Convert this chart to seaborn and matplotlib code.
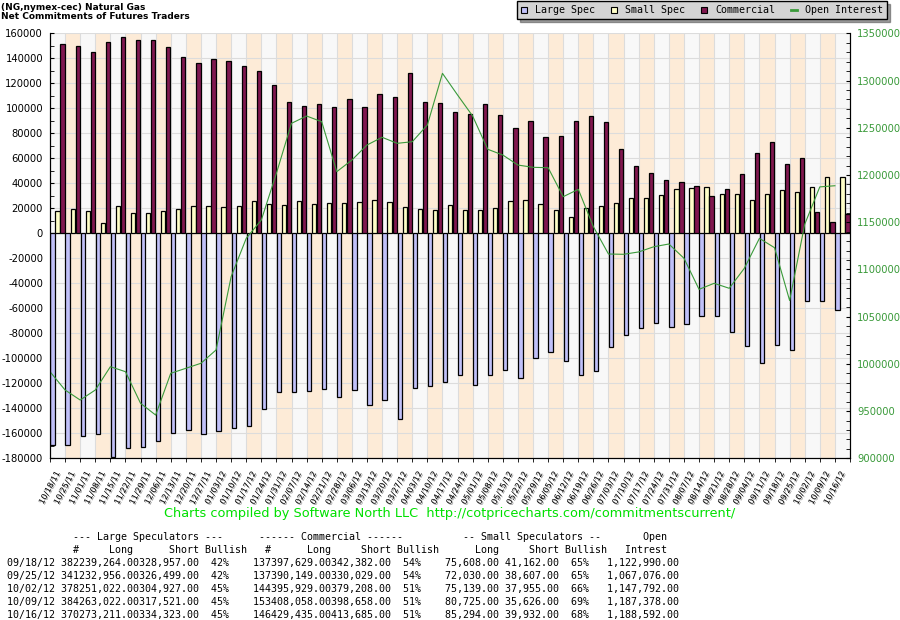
import matplotlib
matplotlib.use('Agg')  # headless
import matplotlib.pyplot as plt
import matplotlib.patheffects as pe
from matplotlib.lines import Line2D
from matplotlib.ticker import MultipleLocator, StrMethodFormatter, FixedLocator
import numpy as np
import pandas as pd
import seaborn as sns

# weekly report dates
dates = ['10/18/11', '10/25/11', '11/01/11', '11/08/11', '11/15/11', '11/22/11', '11/29/11',
         '12/06/11', '12/13/11', '12/20/11', '12/27/11', '01/03/12', '01/10/12', '01/17/12',
         '01/24/12', '01/31/12', '02/07/12', '02/14/12', '02/21/12', '02/28/12', '03/06/12',
         '03/13/12', '03/20/12', '03/27/12', '04/03/12', '04/10/12', '04/17/12', '04/24/12',
         '05/01/12', '05/08/12', '05/15/12', '05/22/12', '05/29/12', '06/05/12', '06/12/12',
         '06/19/12', '06/26/12', '07/03/12', '07/10/12', '07/17/12', '07/24/12', '07/31/12',
         '08/07/12', '08/14/12', '08/21/12', '08/28/12', '09/04/12', '09/11/12', '09/18/12',
         '09/25/12', '10/02/12', '10/09/12', '10/16/12']

# net positions (contracts)
large_spec = [-169300, -169600, -162400, -160800, -178700, -171500, -170700, -166400, -160000,
              -157600, -160800, -158400, -155500, -154300, -140500, -127200, -127200, -126400,
              -124800, -131200, -125600, -137600, -133600, -148800, -124000, -122400, -119200,
              -113600, -121600, -113600, -109600, -116000, -100000, -95200, -102400, -113600,
              -110400, -91200, -81600, -76000, -72000, -75200, -72800, -66400, -66400, -79200,
              -90400, -104000, -89693, -93543, -53905, -54499, -61112]
small_spec = [17900, 19200, 17900, 8000, 21600, 16000, 16000, 17600, 19200, 21600, 21600, 20800,
              21600, 25600, 23500, 22700, 25600, 23500, 24000, 24000, 25100, 26400, 24800, 20800,
              19200, 18400, 22400, 18400, 18400, 20000, 25600, 26400, 23200, 18400, 12800, 20000,
              21600, 24000, 28000, 28000, 30400, 35200, 36000, 36800, 31200, 31200, 26400, 31200,
              34446, 33423, 37184, 45099, 45362]
commercial = [151200, 150150, 144800, 152800, 156800, 154400, 154400, 148800, 140800, 136000,
              139200, 137600, 133600, 129600, 118700, 105100, 101600, 103500, 100800, 107200,
              100800, 111200, 108800, 128000, 104800, 104000, 96800, 95200, 103200, 94400, 84000,
              89600, 76800, 77600, 89600, 93600, 88800, 67200, 53600, 48000, 42400, 40800, 37600,
              29600, 35200, 47200, 64000, 72800, 55247, 60120, 16721, 9400, 15750]
open_interest = [991700, 972300, 961700, 972300, 997000, 991700, 958200, 945800, 990000, 995300,
                 1000600, 1014700, 1092300, 1132900, 1152300, 1201800, 1254700, 1262400, 1256400,
                 1203500, 1215800, 1231700, 1239900, 1233500, 1235200, 1252900, 1307600, 1284700,
                 1262400, 1227200, 1221100, 1210500, 1208100, 1207700, 1177000, 1184800, 1145200,
                 1116300, 1116000, 1118500, 1124000, 1126900, 1111800, 1078900, 1085300, 1080000,
                 1101200, 1132900, 1122990, 1067076, 1147792, 1187378, 1188592]

# table of the last five reports
tbl_dates = ['09/18/12', '09/25/12', '10/02/12', '10/09/12', '10/16/12']
ls_num = [382, 341, 378, 384, 370]
ls_long = [239264, 232956, 251022, 263022, 273211]
ls_short = [328957, 326499, 304927, 317521, 334323]
ls_bull = [42, 42, 45, 45, 45]
cm_num = [137, 137, 144, 153, 146]
cm_long = [397629, 390149, 395929, 408058, 429435]
cm_short = [342382, 330029, 379208, 398658, 413685]
cm_bull = [54, 54, 51, 51, 51]
ss_long = [75608, 72030, 75139, 80725, 85294]
ss_short = [41162, 38607, 37955, 35626, 39932]
ss_bull = [65, 65, 66, 69, 68]
oi_tbl = [1122990, 1067076, 1147792, 1187378, 1188592]

series_names = ['Large Spec', 'Small Spec', 'Commercial']
bar_colors = ['#c0c0f8', '#ffffc8', '#80184f']
OI_GREEN = '#3a9a3a'
MONO = 'DejaVu Sans Mono'

plt.rcParams['axes.unicode_minus'] = False

n = len(dates)
df = pd.DataFrame({
    'date': dates * 3,
    'series': [s for s in series_names for _ in range(n)],
    'value': large_spec + small_spec + commercial,
})

fig = plt.figure(figsize=(9, 6.2), dpi=100)
ax = fig.add_axes([50 / 900, 1 - 458.3 / 620, 800 / 900, 425 / 620])

# alternating week bands
for i in range(n):
    ax.axvspan(i - 0.5, i + 0.5, color=['#f8f8f8', '#fdebd7'][i % 2], lw=0, zorder=0)

sns.barplot(data=df, x='date', y='value', hue='series', order=dates, hue_order=series_names,
            palette=bar_colors, saturation=1, width=1.0, gap=0.15, errorbar=None,
            edgecolor='black', linewidth=0.9, legend=False, ax=ax)

ax.set_xlim(-0.5, n - 0.5)
ax.set_ylim(-180000, 160000)
ax.set_xlabel('')
ax.set_ylabel('')
ax.set_axisbelow(True)
ax.yaxis.set_major_locator(MultipleLocator(20000))
ax.yaxis.set_minor_locator(MultipleLocator(10000))
ax.yaxis.set_major_formatter(StrMethodFormatter('{x:.0f}'))
ax.yaxis.grid(True, which='major', color='#dcdcdc', lw=0.8)
ax.set_xticks(np.arange(n))
ax.set_xticklabels(dates, rotation=62, ha='right', va='center', rotation_mode='anchor',
                   fontsize=5.8)
ax.xaxis.set_minor_locator(FixedLocator(np.arange(n + 1) - 0.5))
ax.xaxis.grid(True, which='minor', color='#dcdcdc', lw=0.8)
ax.tick_params(axis='x', which='major', length=0, pad=10)
ax.tick_params(axis='x', which='minor', length=3, direction='out')
ax.tick_params(axis='y', which='both', direction='in', length=3, labelsize=7.2, pad=5)
for lab in ax.get_xticklabels():
    lab.set_path_effects([pe.withSimplePatchShadow(offset=(0.8, -0.8),
                                                   shadow_rgbFace='#9a9a9a', alpha=1)])
ax.spines['top'].set_visible(False)

# open interest on the right axis
ax2 = ax.twinx()
sns.lineplot(x=np.arange(n) - 0.5, y=open_interest, ax=ax2, color=OI_GREEN, lw=0.8)
ax2.set_ylim(900000, 1350000)
ax2.yaxis.set_major_locator(MultipleLocator(50000))
ax2.yaxis.set_minor_locator(MultipleLocator(10000))
ax2.yaxis.set_major_formatter(StrMethodFormatter('{x:.0f}'))
ax2.tick_params(axis='y', which='both', direction='in', length=3, labelsize=7.2,
                labelcolor=OI_GREEN, pad=5)
ax2.spines['top'].set_visible(False)

# titles
fig.text(1 / 900, 1 - 7.5 / 620, '(NG,nymex-cec) Natural Gas', fontsize=6.5,
         fontweight='bold', va='center', ha='left')
fig.text(1 / 900, 1 - 16.5 / 620, 'Net Commitments of Futures Traders', fontsize=6.5,
         fontweight='bold', va='center', ha='left')

# legend
handles = [Line2D([], [], marker='s', ls='none', markersize=4.5, markerfacecolor=c,
                  markeredgecolor='black', markeredgewidth=0.8) for c in bar_colors]
handles.append(Line2D([], [], color=OI_GREEN, lw=2))
fig.legend(handles, series_names + ['Open Interest'], ncol=4, loc='upper right',
           bbox_to_anchor=(888 / 900, 1.0), frameon=True, fancybox=False, shadow=True,
           facecolor='#d4d4d4', edgecolor='black', framealpha=1,
           prop={'family': MONO, 'size': 7.2}, handlelength=0.6, handletextpad=0.8,
           columnspacing=1.6, borderpad=0.4, borderaxespad=0.1)

# credit line
fig.text(450 / 900, 1 - 513 / 620,
         'Charts compiled by Software North LLC  http://cotpricecharts.com/commitmentscurrent/',
         color='#00e000', fontsize=9.3, ha='center', va='center')


def at_cols(items):
    s = ''
    for col, txt in items:
        s = s.ljust(col) + txt
    return s


rows = [
    at_cols([(11, '--- Large Speculators ---'), (42, '------ Commercial ------'),
             (76, '-- Small Speculators --'), (106, 'Open')]),
    at_cols([(11, '#'), (17, 'Long'), (27, 'Short'), (33, 'Bullish'), (43, '#'), (50, 'Long'),
             (59, 'Short'), (65, 'Bullish'), (78, 'Long'), (87, 'Short'), (93, 'Bullish'),
             (103, 'Intrest')]),
]
for i in range(len(tbl_dates)):
    rows.append(f"{tbl_dates[i]} {ls_num[i]}{ls_long[i]:,}.00{ls_short[i]:,}.00  {ls_bull[i]}%    "
                f"{cm_num[i]}{cm_long[i]:,}.00{cm_short[i]:,}.00  {cm_bull[i]}%    "
                f"{ss_long[i]:,}.00 {ss_short[i]:,}.00  {ss_bull[i]}%   {oi_tbl[i]:,}.00")
for k, line in enumerate(rows):
    fig.text(7 / 900, 1 - (536.7 + 13.05 * k) / 620, line, family=MONO, fontsize=7.2,
             ha='left', va='center')

fig.savefig('out.png', dpi=100)
